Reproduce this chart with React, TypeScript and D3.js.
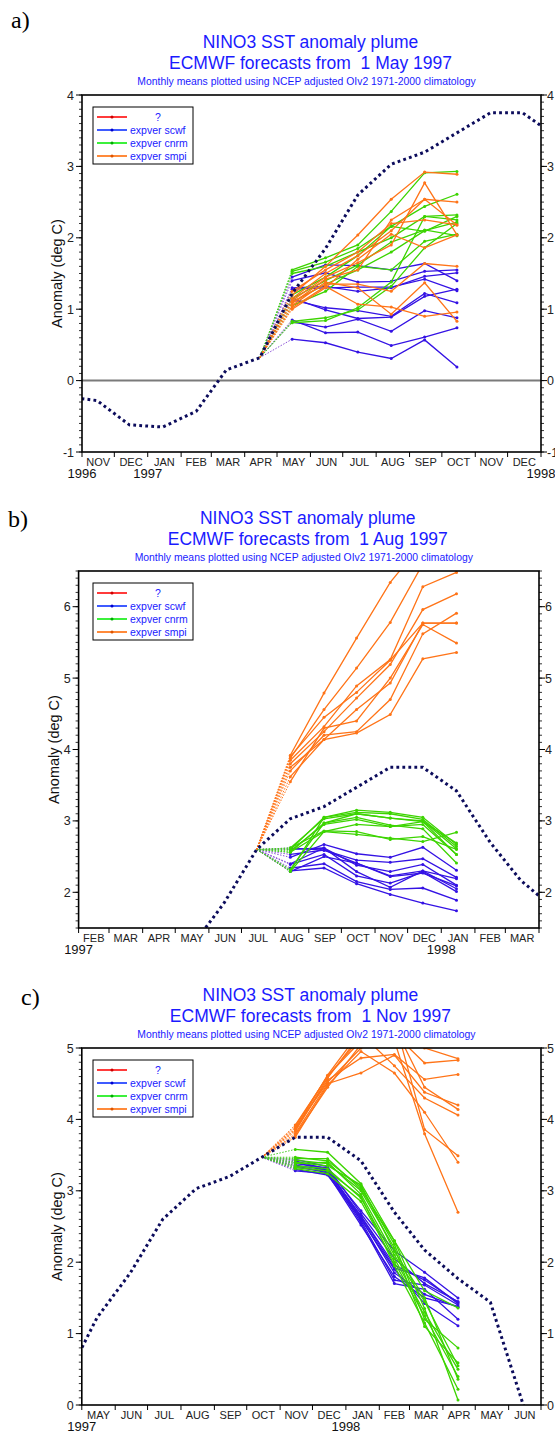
import React from "react";
import * as d3 from "d3";

// ---------- DATA ----------
const obsMonths = ["1996-10","1996-11","1996-12","1997-01","1997-02","1997-03","1997-04","1997-05","1997-06","1997-07","1997-08","1997-09","1997-10","1997-11","1997-12","1998-01","1998-02","1998-03","1998-04","1998-05","1998-06"];
const obsValues = [-0.22,-0.28,-0.62,-0.65,-0.43,0.15,0.32,1.22,1.85,2.60,3.03,3.20,3.47,3.75,3.75,3.42,2.70,2.17,1.77,1.44,-0.02];

const monthNames = ["JAN","FEB","MAR","APR","MAY","JUN","JUL","AUG","SEP","OCT","NOV","DEC"];
const legendLabels = ["?","expver scwf","expver cnrm","expver smpi"];

// Panel a: forecasts from 1 May 1997
const fcAMonths = ["1997-05","1997-06","1997-07","1997-08","1997-09","1997-10"];
const fcAScwf = [
  [0.58,0.53,0.40,0.31,0.57,0.19],
  [0.85,0.67,0.68,0.49,0.61,0.74],
  [0.82,0.75,0.86,0.69,0.98,0.88],
  [1.16,0.99,0.87,0.89,1.18,1.28],
  [1.13,1.02,0.98,0.90,1.22,1.09],
  [1.30,1.32,1.25,1.30,1.46,1.51],
  [1.40,1.51,1.38,1.39,1.53,1.55],
  [1.28,1.30,1.31,1.31,1.42,1.26],
  [1.45,1.62,1.61,1.55,1.64,1.40]
];
const fcACnrm = [
  [1.55,1.72,1.90,2.37,2.91,2.93],
  [1.53,1.66,1.85,2.16,2.44,2.61],
  [1.50,1.60,1.80,2.00,2.30,2.32],
  [1.20,1.45,1.75,2.16,2.09,2.30],
  [1.15,1.40,1.62,1.94,2.11,2.03],
  [0.83,0.88,0.99,1.32,1.86,2.20],
  [0.81,0.84,1.02,1.38,2.30,2.25],
  [1.10,1.35,1.55,1.80,2.10,2.22],
  [1.05,1.25,1.60,1.55,1.95,2.05]
];
const fcASmpi = [
  [1.05,1.38,1.30,0.93,1.37,0.83],
  [1.02,1.32,1.07,1.03,0.90,0.96],
  [1.10,1.35,1.35,1.25,1.64,1.60],
  [1.15,1.50,1.75,2.10,2.54,2.50],
  [1.20,1.60,2.04,2.54,2.92,2.89],
  [1.25,1.55,1.80,2.20,2.25,2.18],
  [1.12,1.45,1.65,1.90,2.77,2.04],
  [1.08,1.42,1.55,2.25,2.54,2.18],
  [1.00,1.30,1.70,2.05,1.86,2.04]
];

// Panel b: forecasts from 1 Aug 1997
const fcBMonths = ["1997-08","1997-09","1997-10","1997-11","1997-12","1998-01"];
const fcBScwf = [
  [2.30,2.34,2.12,1.97,1.85,1.74],
  [2.34,2.40,2.15,2.04,2.06,1.89],
  [2.39,2.53,2.23,2.13,2.28,2.01],
  [2.29,2.50,2.41,2.23,2.30,2.05],
  [2.53,2.59,2.41,2.22,2.27,2.09],
  [2.60,2.62,2.29,2.07,2.30,2.19],
  [2.49,2.67,2.54,2.49,2.63,2.31],
  [2.62,2.59,2.45,2.42,2.47,2.21],
  [2.40,2.62,2.38,2.29,2.39,2.10]
];
const fcBCnrm = [
  [2.60,3.05,3.15,3.12,3.05,2.67],
  [2.62,3.03,3.10,3.04,2.99,2.53],
  [2.56,2.97,3.10,3.04,3.00,2.61],
  [2.58,2.95,3.02,2.92,2.99,2.69],
  [2.32,2.97,3.05,2.94,2.89,2.41],
  [2.29,2.85,2.95,2.92,2.95,2.53],
  [2.56,2.85,2.81,2.76,2.71,2.84],
  [2.62,2.86,2.85,2.74,2.78,2.60],
  [2.30,3.05,3.12,3.10,3.02,2.64]
];
const fcBSmpi = [
  [3.92,4.79,5.56,6.34,6.90,7.20],
  [3.88,4.56,5.14,5.78,6.60,7.00],
  [3.85,4.32,4.89,5.26,6.28,6.48],
  [3.80,4.25,4.72,5.19,5.96,6.18],
  [3.75,4.14,4.56,4.93,5.77,5.77],
  [3.70,4.20,4.25,4.70,5.62,5.91],
  [3.62,4.14,4.23,4.49,5.27,5.36],
  [3.55,4.30,4.40,5.00,5.75,5.49],
  [3.90,4.45,4.80,5.25,5.77,5.77]
];

// Panel c: forecasts from 1 Nov 1997
const fcCMonths = ["1997-11","1997-12","1998-01","1998-02","1998-03","1998-04"];
const fcCScwf = [
  [3.42,3.30,2.72,2.16,1.86,1.50],
  [3.40,3.28,2.65,1.96,1.75,1.44],
  [3.38,3.32,2.58,1.75,1.68,1.40],
  [3.35,3.25,2.62,1.85,1.55,1.37],
  [3.33,3.27,2.55,1.70,1.62,1.20],
  [3.30,3.22,2.60,1.90,1.42,1.11],
  [3.44,3.34,2.68,2.05,1.70,1.45],
  [3.28,3.24,2.52,1.80,1.50,1.38],
  [3.36,3.29,2.64,1.92,1.78,1.42]
];
const fcCCnrm = [
  [3.58,3.54,3.10,2.30,1.60,1.36],
  [3.47,3.42,3.05,2.25,1.20,0.80],
  [3.43,3.38,3.00,2.20,1.10,0.59],
  [3.38,3.40,2.95,2.10,1.45,0.55],
  [3.35,3.31,2.90,2.05,1.30,0.50],
  [3.31,3.24,2.85,2.00,1.25,0.40],
  [3.40,3.35,3.08,2.15,1.50,0.36],
  [3.33,3.28,2.92,1.95,1.15,0.22],
  [3.45,3.45,3.02,2.30,1.35,0.07]
];
const fcCSmpi = [
  [3.90,4.61,5.10,5.20,4.79,4.83],
  [3.85,4.55,4.86,4.91,4.56,4.63],
  [3.80,4.50,4.65,4.90,4.38,4.20],
  [3.78,4.45,5.05,5.30,4.45,4.14],
  [3.83,4.58,5.20,4.75,4.30,4.06],
  [3.88,4.52,5.00,5.40,3.86,3.49],
  [3.75,4.48,4.95,4.65,4.10,3.40],
  [3.92,4.60,5.15,5.10,3.80,2.70],
  [3.86,4.62,5.25,5.50,5.00,4.85]
];

// ---------- STYLE ----------
const BLUE_TEXT = "#1a1aff";
const OBS_COLOR = "#0c0c5c";
const modelColors = ["#3412e4", "#3cd400", "#ff7418"];
const connColors = ["#8a4fd8", "#44cc22", "#ff7418"];
const legendLine = ["#ff3b3b", "#3f5bff", "#3cf03c", "#ff8a3a"];
const legendDot = ["#cc0000", "#0000cc", "#00aa00", "#dd5500"];
const SANS = "'Liberation Sans', Arial, Helvetica, sans-serif";
const SERIF = "'Liberation Serif', 'Times New Roman', serif";

const parseM = (s: string) => {
  const [y, m] = s.split("-").map(Number);
  return new Date(Date.UTC(y, m - 1, 15));
};
const parseStart = (s: string) => {
  const [y, m] = s.split("-").map(Number);
  return new Date(Date.UTC(y, m - 1, 1));
};

type PanelCfg = {
  id: string;
  label: string;
  labelX: number;
  labelY: number;
  start: string;
  end: string;
  yMin: number;
  yMax: number;
  left: number;
  right: number;
  top: number;
  bottom: number;
  init: string;
  title2: string;
  months: string[];
  models: number[][][];
  zero: boolean;
};

const panels: PanelCfg[] = [
  { id: "a", label: "a)", labelX: 11, labelY: 28, start: "1996-11", end: "1998-01", yMin: -1, yMax: 4,
    left: 82, right: 541, top: 95, bottom: 452, init: "1997-04",
    title2: "ECMWF forecasts from  1 May 1997", months: fcAMonths, models: [fcAScwf, fcACnrm, fcASmpi], zero: true },
  { id: "b", label: "b)", labelX: 8, labelY: 527, start: "1997-02", end: "1998-04", yMin: 1.5, yMax: 6.5,
    left: 78.6, right: 539, top: 571, bottom: 928, init: "1997-07",
    title2: "ECMWF forecasts from  1 Aug 1997", months: fcBMonths, models: [fcBScwf, fcBCnrm, fcBSmpi], zero: false },
  { id: "c", label: "c)", labelX: 21, labelY: 1005, start: "1997-05", end: "1998-07", yMin: 0, yMax: 5,
    left: 81.8, right: 541, top: 1048, bottom: 1405, init: "1997-10",
    title2: "ECMWF forecasts from  1 Nov 1997", months: fcCMonths, models: [fcCScwf, fcCCnrm, fcCSmpi], zero: false },
];

function Panel({ p }: { p: PanelCfg }) {
  const x = d3.scaleUtc().domain([parseStart(p.start), parseStart(p.end)]).range([p.left, p.right]);
  const y = d3.scaleLinear().domain([p.yMin, p.yMax]).range([p.bottom, p.top]);
  const line = d3.line<[Date, number]>().x(d => x(d[0])).y(d => y(d[1]));
  const cx = (p.left + p.right) / 2;
  const clipId = "clip-" + p.id;

  const obsPts: [Date, number][] = obsMonths.map((m, i) => [parseM(m), obsValues[i]]);
  const initVal = obsValues[obsMonths.indexOf(p.init)];
  const initDate = parseM(p.init);

  const majors = d3.range(Math.ceil(p.yMin), Math.floor(p.yMax) + 0.001, 1);
  const minors = d3.range(Math.round(p.yMin * 10), Math.round(p.yMax * 10) + 1).map(v => v / 10);
  const monthStarts = d3.utcMonth.range(parseStart(p.start), d3.utcMonth.offset(parseStart(p.end), 1));
  const monthsInside = d3.utcMonth.range(parseStart(p.start), parseStart(p.end));
  const years: Date[] = [parseStart(p.start)];
  monthStarts.forEach(d => { if (d.getUTCMonth() === 0 && +d !== +parseStart(p.start)) years.push(d); });

  const lx = 93, ly = p.top + 12, lw = 100, lh = 57;

  return (
    <g>
      <text x={p.labelX} y={p.labelY} fontFamily={SERIF} fontSize={24} fill="#000">{p.label}</text>
      <text x={cx - 1} y={p.top - 47} textAnchor="middle" fontFamily={SANS} fontSize={17.5} fill={BLUE_TEXT}>NINO3 SST anomaly plume</text>
      <text x={cx - 1} y={p.top - 26} textAnchor="middle" fontFamily={SANS} fontSize={17.5} fill={BLUE_TEXT} style={{ whiteSpace: "pre" }}>{p.title2}</text>
      <text x={cx - 5} y={p.top - 10} textAnchor="middle" fontFamily={SANS} fontSize={10.4} fill={BLUE_TEXT}>Monthly means plotted using NCEP adjusted OIv2 1971-2000 climatology</text>

      <text transform={`translate(${p.left - 20},${(p.top + p.bottom) / 2}) rotate(-90)`} textAnchor="middle" fontFamily={SANS} fontSize={14.5} fill="#111">Anomaly (deg C)</text>

      <defs>
        <clipPath id={clipId}>
          <rect x={p.left} y={p.top} width={p.right - p.left} height={p.bottom - p.top} />
        </clipPath>
      </defs>

      {p.zero && (
        <line x1={p.left} x2={p.right} y1={y(0)} y2={y(0)} stroke="#7a7a7a" strokeWidth={2} />
      )}

      <g clipPath={`url(#${clipId})`}>
        {p.models.map((members, mi) => (
          <g key={"conn" + mi}>
            {members.map((vals, k) => (
              <line key={k} x1={x(initDate)} y1={y(initVal)} x2={x(parseM(p.months[0]))} y2={y(vals[0])}
                stroke={connColors[mi]} strokeWidth={1} strokeDasharray="1.5 1.5" />
            ))}
          </g>
        ))}
        {p.models.map((members, mi) => (
          <g key={"m" + mi}>
            {members.map((vals, k) => {
              const pts: [Date, number][] = vals.map((v, i) => [parseM(p.months[i]), v]);
              return (
                <g key={k}>
                  <path d={line(pts) || ""} fill="none" stroke={modelColors[mi]} strokeWidth={1.3} />
                  {pts.map((d, i) => (
                    <circle key={i} cx={x(d[0])} cy={y(d[1])} r={1.5} fill={modelColors[mi]} />
                  ))}
                </g>
              );
            })}
          </g>
        ))}
        <path d={line(obsPts) || ""} fill="none" stroke={OBS_COLOR} strokeWidth={3} strokeDasharray="2.8 3.2" />
      </g>

      {/* frame */}
      <rect x={p.left} y={p.top} width={p.right - p.left} height={p.bottom - p.top} fill="none" stroke="#000" strokeWidth={1.6} />

      {/* y ticks */}
      {minors.map(v => (
        <g key={"mi" + v}>
          <line x1={p.left - 3} x2={p.left} y1={y(v)} y2={y(v)} stroke="#000" strokeWidth={0.8} />
          <line x1={p.right} x2={p.right + 3} y1={y(v)} y2={y(v)} stroke="#000" strokeWidth={0.8} />
        </g>
      ))}
      {majors.map(v => (
        <g key={"ma" + v}>
          <line x1={p.left - 6} x2={p.left} y1={y(v)} y2={y(v)} stroke="#000" strokeWidth={1} />
          <line x1={p.right} x2={p.right + 6} y1={y(v)} y2={y(v)} stroke="#000" strokeWidth={1} />
          <text x={p.left - 8} y={y(v) + 4.5} textAnchor="end" fontFamily={SANS} fontSize={12.5} fill="#222">{v}</text>
          <text x={p.right + 6} y={y(v) + 4.5} textAnchor="start" fontFamily={SANS} fontSize={12.5} fill="#222">{v}</text>
        </g>
      ))}

      {/* x ticks & labels */}
      {monthStarts.map((d, i) => (
        <line key={"xt" + i} x1={x(d)} x2={x(d)} y1={p.bottom} y2={p.bottom + 5} stroke="#000" strokeWidth={1} />
      ))}
      {monthsInside.map((d, i) => (
        <text key={"xl" + i} x={(x(d) + x(d3.utcMonth.offset(d, 1))) / 2} y={p.bottom + 14} textAnchor="middle" fontFamily={SANS} fontSize={11} fill="#222">
          {monthNames[d.getUTCMonth()]}
        </text>
      ))}
      {years.map((d, i) => (
        <text key={"yr" + i} x={x(d)} y={p.bottom + 26} textAnchor="middle" fontFamily={SANS} fontSize={13} fill="#111">
          {d.getUTCFullYear()}
        </text>
      ))}

      {/* legend */}
      <rect x={lx} y={ly} width={lw} height={lh} fill="#fff" stroke="#000" strokeWidth={1} />
      {legendLabels.map((t, i) => {
        const ry = ly + 10 + i * 13;
        return (
          <g key={"lg" + i}>
            <line x1={lx + 4} x2={lx + 34} y1={ry} y2={ry} stroke={legendLine[i]} strokeWidth={2} />
            <circle cx={lx + 19} cy={ry} r={1.5} fill={legendDot[i]} />
            <text x={i === 0 ? lx + 65 : lx + 37} y={ry + 3.5} textAnchor={i === 0 ? "middle" : "start"} fontFamily={SANS} fontSize={10.5} fill={BLUE_TEXT}>{t}</text>
          </g>
        );
      })}
    </g>
  );
}

export default function App() {
  return (
    <svg width={555} height={1434} style={{ position: "absolute", left: 0, top: 0, background: "#fff" }}>
      <rect width={555} height={1434} fill="#fff" />
      {panels.map(p => <Panel key={p.id} p={p} />)}
    </svg>
  );
}
